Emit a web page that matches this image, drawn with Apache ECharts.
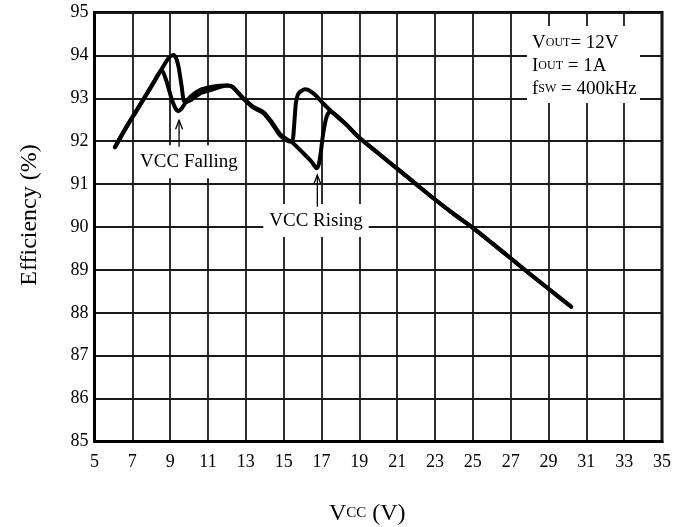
<!DOCTYPE html>
<html>
<head>
<meta charset="utf-8">
<script src="https://cdn.jsdelivr.net/npm/echarts@6/dist/echarts.min.js"></script>
<style>
  html, body { margin: 0; padding: 0; background: #fff; }
  #chart { width: 687px; height: 527px; }
</style>
</head>
<body>
<div id="chart"></div>
<script>
// Efficiency vs. supply voltage, two sweeps showing the mode-switch hysteresis
var fallingVcc = [6.08, 6.7, 7.4, 8.11, 8.55, 8.82, 9.08, 9.3, 9.43, 9.6, 9.78, 10.1, 10.6, 11.1, 11.6, 12.0, 12.3, 12.86, 13.4, 13.92, 14.37, 14.8, 15.24, 15.45, 15.55, 15.65, 15.8, 16.13, 16.56, 17.09, 17.62, 18.33, 19.0, 20.0, 21.0, 22.0, 23.0, 24.0, 25.0, 26.0, 27.0, 28.0, 29.0, 30.2];
var fallingEff = [91.86, 92.34, 92.84, 93.35, 93.66, 93.38, 92.98, 92.75, 92.70, 92.76, 92.88, 93.05, 93.2, 93.26, 93.29, 93.3, 93.26, 93.0, 92.8, 92.68, 92.45, 92.17, 92.02, 92.0, 92.35, 92.9, 93.12, 93.21, 93.12, 92.88, 92.65, 92.38, 92.08, 91.72, 91.36, 91.0, 90.64, 90.3, 89.98, 89.63, 89.27, 88.91, 88.56, 88.14];

var risingVcc = [6.08, 6.7, 7.4, 8.11, 8.55, 8.9, 9.17, 9.32, 9.45, 9.6, 9.75, 9.9, 10.6, 11.2, 12.0, 12.3, 12.86, 13.4, 13.92, 14.37, 14.8, 15.24, 15.42, 16.04, 16.48, 16.74, 16.85, 16.95, 17.09, 17.27, 17.45, 17.8, 18.33, 19.0, 20.0, 21.0, 22.0, 23.0, 24.0, 25.0, 26.0, 27.0, 28.0, 29.0, 30.2];
var risingEff = [91.86, 92.34, 92.84, 93.36, 93.68, 93.93, 94.01, 93.93, 93.72, 93.3, 92.92, 92.92, 93.12, 93.2, 93.3, 93.27, 93.0, 92.78, 92.66, 92.42, 92.14, 92.0, 91.98, 91.72, 91.52, 91.37, 91.45, 91.7, 92.18, 92.57, 92.69, 92.6, 92.38, 92.08, 91.72, 91.36, 91.0, 90.64, 90.3, 89.98, 89.63, 89.27, 88.91, 88.56, 88.14];

// annotation text anchors and arrow spans (Vcc, efficiency)
var noteNames = ['VCC Falling', 'VCC Rising'];
var noteVcc = [9.99, 16.71];
var noteEff = [91.52, 90.15];
var arrowVcc = [9.47, 16.78];
var arrowFrom = [91.87, 90.47];
var arrowTo = [92.49, 91.21];

var serif = '"Liberation Serif", "Times New Roman", serif';

function pairs(xs, ys) {
  return xs.map(function (x, i) { return [x, ys[i]]; });
}

var chart = echarts.init(document.getElementById('chart'), null, { renderer: 'canvas' });

var curveStyle = { color: '#000', width: 4, cap: 'round', join: 'round' };

chart.setOption({
  animation: false,
  backgroundColor: '#fff',
  grid: {
    left: 94.5, right: 25, top: 12.5, bottom: 85.5,
    containLabel: false, outerBoundsMode: 'none',
    show: true, borderColor: '#000', borderWidth: 3, backgroundColor: 'transparent'
  },
  xAxis: {
    type: 'value', min: 5, max: 35, interval: 2,
    axisLine: { show: true, onZero: false, lineStyle: { color: '#000', width: 3 } },
    axisTick: { show: false },
    splitLine: { show: true, lineStyle: { color: '#1a1a1a', width: 1.8 } },
    axisLabel: { color: '#000', fontFamily: serif, fontSize: 18, margin: 12 },
    name: '{m|V}{s|CC}{m| (V)}',
    nameLocation: 'middle',
    nameGap: 56,
    nameTextStyle: {
      padding: [0, 22, 0, 0],
      rich: {
        m: { fontFamily: serif, fontSize: 24, color: '#000', lineHeight: 28, verticalAlign: 'bottom' },
        s: { fontFamily: serif, fontSize: 15, color: '#000', lineHeight: 18, verticalAlign: 'bottom', padding: [0, 0, 5, 0] }
      }
    }
  },
  yAxis: {
    type: 'value', min: 85, max: 95, interval: 1,
    axisLine: { show: true, lineStyle: { color: '#000', width: 3 } },
    axisTick: { show: false },
    splitLine: { show: true, lineStyle: { color: '#1a1a1a', width: 1.8 } },
    axisLabel: { color: '#000', fontFamily: serif, fontSize: 18, margin: 6 }
  },
  series: [
    {
      name: 'VCC Falling', type: 'line', z: 4,
      data: pairs(fallingVcc, fallingEff),
      showSymbol: false, smooth: 0.25,
      lineStyle: curveStyle
    },
    {
      name: 'VCC Rising', type: 'line', z: 4,
      data: pairs(risingVcc, risingEff),
      showSymbol: false, smooth: 0.25,
      lineStyle: curveStyle
    }
  ]
});

// Overlays: axis title, operating conditions box, and the two annotations
var overlays = [
  {
    type: 'text', z: 50,
    x: 30, y: 215, rotation: Math.PI / 2,
    style: {
      text: 'Efficiency (%)', fill: '#000',
      font: '24px ' + serif, align: 'center', verticalAlign: 'middle'
    }
  },
  {
    type: 'rect', z: 50,
    shape: { x: 527, y: 26, width: 113, height: 77 },
    style: { fill: '#fff' }
  },
  {
    type: 'text', z: 51,
    x: 532, y: 30,
    style: {
      text: '{m|V}{s|OUT}{m|= 12V}\n{m|I}{s|OUT}{m| = 1A}\n{m|f}{s|SW}{m| = 400kHz}',
      rich: {
        m: { fontFamily: serif, fontSize: 19, fill: '#000', lineHeight: 23, verticalAlign: 'bottom' },
        s: { fontFamily: serif, fontSize: 12, fill: '#000', lineHeight: 14, verticalAlign: 'bottom', padding: [0, 0, 4, 0] }
      }
    }
  }
];

noteNames.forEach(function (name, i) {
  var c = chart.convertToPixel({ gridIndex: 0 }, [noteVcc[i], noteEff[i]]);
  overlays.push({
    type: 'text', z: 40,
    x: c[0], y: c[1],
    style: {
      text: name, fill: '#000', font: '19px ' + serif,
      align: 'center', verticalAlign: 'middle',
      backgroundColor: '#fff', padding: [7, 6]
    }
  });
  var a = chart.convertToPixel({ gridIndex: 0 }, [arrowVcc[i], arrowFrom[i]]);
  var b = chart.convertToPixel({ gridIndex: 0 }, [arrowVcc[i], arrowTo[i]]);
  overlays.push({
    type: 'line', z: 41,
    shape: { x1: a[0], y1: a[1], x2: b[0], y2: b[1] },
    style: { stroke: '#000', lineWidth: 1.3 }
  });
  overlays.push({
    type: 'polyline', z: 41,
    shape: { points: [[b[0] - 3.5, b[1] + 9], [b[0], b[1]], [b[0] + 3.5, b[1] + 9]] },
    style: { stroke: '#000', lineWidth: 1.3, fill: null }
  });
});

chart.setOption({ graphic: overlays });
</script>
</body>
</html>
